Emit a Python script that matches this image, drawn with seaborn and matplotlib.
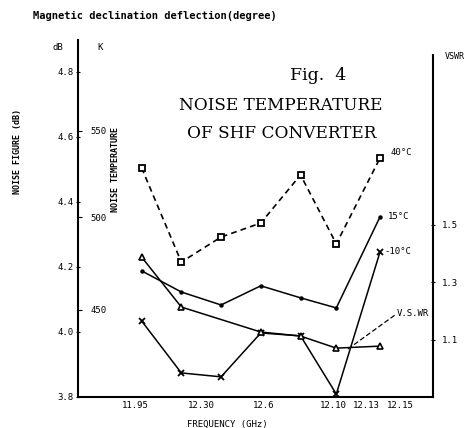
import numpy as np
import matplotlib
matplotlib.use("Agg")
import matplotlib.pyplot as plt
import seaborn as sns

# Frequency points (GHz)
freq = [11.955, 11.985, 12.015, 12.045, 12.075, 12.102, 12.135]
vswr_freq = [11.955, 11.985, 12.045, 12.075, 12.102, 12.135]

# Noise figure (dB) at three temperatures
nf_40c = [4.505, 4.215, 4.292, 4.335, 4.483, 4.271, 4.535]
nf_15c = [4.188, 4.123, 4.083, 4.142, 4.105, 4.074, 4.354]
nf_m10c = [4.034, 3.874, 3.862, 3.997, 3.988, 3.809, 4.246]

# V.S.W.R (right axis)
vswr = [1.387, 1.213, 1.126, 1.112, 1.070, 1.077]

# Axis ticks as printed
x_ticks = [11.95, 12.0, 12.047, 12.1, 12.125, 12.15]
x_labels = ["11.95", "12.30", "12.6", "12.10", "12.13", "12.15"]
db_ticks = [3.8, 4.0, 4.2, 4.4, 4.6, 4.8]
k_ticks = [450, 500, 550]
vswr_ticks = [1.1, 1.3, 1.5]


def nf_to_k(db):
    return 290.0 * (10 ** (np.asarray(db) / 10.0) - 1.0)


def k_to_nf(k):
    return 10.0 * np.log10(1.0 + np.asarray(k) / 290.0)


sns.set_style("white")
plt.rcParams["font.family"] = ["DejaVu Sans Mono", "DejaVu Sans"]
plt.rcParams["text.color"] = "black"
plt.rcParams["xtick.color"] = "black"
plt.rcParams["ytick.color"] = "black"
plt.rcParams["axes.labelcolor"] = "black"

W, H = 471, 428
fig = plt.figure(figsize=(W / 100, H / 100), dpi=100)
ax = fig.add_axes([78 / W, 1 - 397 / H, (433 - 78) / W, (397 - 40) / H])


def fx(px):
    return px / W


def fy(py):
    return 1 - py / H


# noise curves
sns.lineplot(x=freq, y=nf_40c, ax=ax, color="black", lw=1.2, linestyle=(0, (3.5, 2.5)),
             marker="s", markersize=5, markerfacecolor="white", markeredgecolor="black",
             markeredgewidth=1.3)
sns.lineplot(x=freq, y=nf_15c, ax=ax, color="black", lw=1.1,
             marker="o", markersize=3.2, markeredgecolor="black", markeredgewidth=0)
sns.lineplot(x=freq, y=nf_m10c, ax=ax, color="black", lw=1.1,
             marker="x", markersize=4, markeredgecolor="black", markeredgewidth=1.3)

ax.set_xlim(11.907, 12.175)
ax.set_ylim(3.8, 4.898)
ax.set_xticks(x_ticks)
ax.set_xticklabels(x_labels)
ax.set_yticks(db_ticks)
ax.set_yticklabels([f"{v:.1f}" for v in db_ticks])
ax.tick_params(axis="both", labelsize=6.5, length=3, width=0.8, direction="inout", pad=2)
ax.tick_params(axis="x", length=2)
ax.set_xlabel("")
ax.set_ylabel("")
for s in ["top", "right"]:
    ax.spines[s].set_visible(False)
for s in ["left", "bottom"]:
    ax.spines[s].set_linewidth(1.5)
    ax.spines[s].set_color("black")

# noise temperature scale (K) inside the left spine
sec = ax.secondary_yaxis(0, functions=(nf_to_k, k_to_nf))
sec.set_alignment("right")
sec.set_yticks(k_ticks)
sec.tick_params(labelsize=6.5, length=3, width=0.8, pad=6)
sec.spines["right"].set_visible(False)

# VSWR on the right
ax2 = ax.twinx()
sns.lineplot(x=vswr_freq, y=vswr, ax=ax2, color="black", lw=1.1,
             marker="^", markersize=4.5, markerfacecolor="white", markeredgecolor="black",
             markeredgewidth=1.2)
ax2.set_ylim(0.90, 2.142)
ax2.set_yticks(vswr_ticks)
ax2.set_yticklabels([f"{v:.1f}" for v in vswr_ticks])
ax2.tick_params(axis="y", labelsize=6.5, length=3, width=0.8, direction="inout", pad=5)
ax2.set_ylabel("")
for s in ["top", "left", "bottom"]:
    ax2.spines[s].set_visible(False)
ax2.spines["right"].set_linewidth(1.5)
ax2.spines["right"].set_color("black")
ax2.spines["right"].set_bounds(0.90, 2.09)

# curve labels
ax.annotate("40°C", xy=(freq[-1], nf_40c[-1]), xytext=(10, 6), textcoords="offset pixels",
            fontsize=6.5, va="center", ha="left")
ax.annotate("15°C", xy=(freq[-1], nf_15c[-1]), xytext=(8, 0), textcoords="offset pixels",
            fontsize=6.5, va="center", ha="left")
ax.annotate("-10°C", xy=(freq[-1], nf_m10c[-1]), xytext=(4, 0), textcoords="offset pixels",
            fontsize=6.5, va="center", ha="left")
fig.text(fx(397), fy(313), "V.S.WR", fontsize=6.5, va="center", ha="left")
fig.add_artist(plt.Line2D([fx(348), fx(395)], [fy(349), fy(315)], color="black",
                          lw=0.9, linestyle=(0, (4, 2))))

# titles and axis texts
fig.text(fx(33), fy(16), "Magnetic declination deflection(degree)", fontsize=7.5,
         fontweight="bold", va="center", ha="left")
fig.text(fx(318), fy(75), "Fig.  4", fontsize=12.5, family="DejaVu Serif",
         va="center", ha="center")
fig.text(fx(281), fy(105), "NOISE TEMPERATURE", fontsize=12.2, family="DejaVu Serif",
         va="center", ha="center")
fig.text(fx(282), fy(133), "OF SHF CONVERTER", fontsize=12.2, family="DejaVu Serif",
         va="center", ha="center")
fig.text(fx(58), fy(47), "dB", fontsize=6.5, va="center", ha="center")
fig.text(fx(100), fy(47), "K", fontsize=6.5, va="center", ha="center")
fig.text(fx(455), fy(57), "VSWR", fontsize=6, va="center", ha="center")
fig.text(fx(18), fy(152), "NOISE FIGURE (dB)", fontsize=6, fontweight="bold",
         rotation=90, va="center", ha="center")
fig.text(fx(116), fy(170), "NOISE TEMPERATURE", fontsize=6, fontweight="bold",
         rotation=90, va="center", ha="center")
fig.text(fx(227), fy(424), "FREQUENCY (GHz)", fontsize=6.5, va="center", ha="center")

fig.savefig("out.png", dpi=100)
